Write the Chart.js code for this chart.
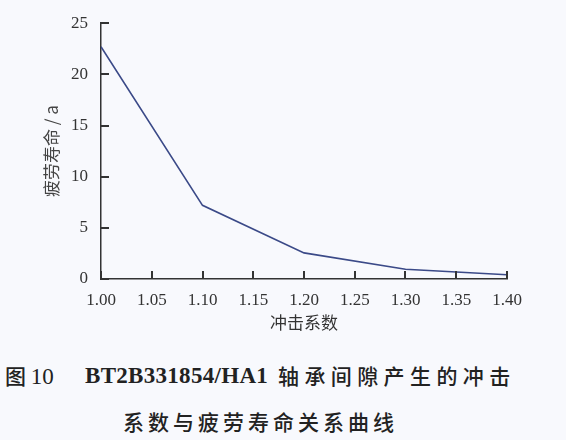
<!DOCTYPE html>
<html>
<head>
<meta charset="utf-8">
<script src="https://cdn.jsdelivr.net/npm/chart.js@4/dist/chart.umd.min.js"></script>
<style>
  html, body { margin: 0; padding: 0; background: #f8f9fd; }
  #wrap { position: relative; width: 566px; height: 440px; overflow: hidden; }
  #chartBox { position: absolute; left: 0; top: 0; width: 566px; height: 340px; }
  .cap { position: absolute; color: #222; font-family: "Noto Sans CJK SC", sans-serif; font-size: 21px; font-weight: 500; white-space: nowrap; line-height: 1; }
  .lat { font-family: "Liberation Serif", serif; font-size: 23px; font-weight: bold; }
</style>
</head>
<body>
<div id="wrap">
  <div id="chartBox"><canvas id="chart"></canvas></div>
  <div class="cap" style="left:5px; top:365px;">图 <span class="lat" style="font-weight:normal">10</span></div>
  <div class="cap lat" style="left:85px; top:364px; letter-spacing:0.3px;">BT2B331854/HA1</div>
  <div class="cap" style="left:278px; top:365px; letter-spacing:5.4px;">轴承间隙产生的冲击</div>
  <div class="cap" style="left:123px; top:411px; letter-spacing:4px;">系数与疲劳寿命关系曲线</div>
</div>
<script>
// 冲击系数 vs 疲劳寿命 (a)
let impactFactor = [1.00, 1.10, 1.20, 1.30, 1.40];
let fatigueLife = [22.7, 7.2, 2.55, 0.95, 0.42];

let xTitle = "冲击系数";
let yTitle = "疲劳寿命 / a";

let axisColor = "#333";
let lineColor = "#3b4a88";

let points = impactFactor.map((x, i) => ({x: x, y: fatigueLife[i]}));

// draw short tick marks pointing into the plot
const innerTicks = {
  id: 'innerTicks',
  afterDatasetsDraw(chart) {
    const c = chart.ctx;
    const xs = chart.scales.x, ys = chart.scales.y;
    c.save();
    c.strokeStyle = axisColor;
    c.lineWidth = 2;
    c.beginPath();
    xs.ticks.forEach((t) => {
      const px = Math.round(xs.getPixelForValue(t.value));
      c.moveTo(px, ys.bottom);
      c.lineTo(px, ys.bottom - 8);
    });
    ys.ticks.forEach((t) => {
      const py = Math.round(ys.getPixelForValue(t.value));
      c.moveTo(xs.left, py);
      c.lineTo(xs.left + 8, py);
    });
    c.stroke();
    c.restore();
  }
};

const ctx = document.getElementById('chart').getContext('2d');
const chart = new Chart(ctx, {
  type: 'line',
  data: {
    datasets: [{
      label: yTitle,
      data: points,
      borderColor: lineColor,
      borderWidth: 1.6,
      pointRadius: 0,
      fill: false,
      tension: 0
    }]
  },
  options: {
    animation: false,
    responsive: true,
    maintainAspectRatio: false,
    layout: { padding: { top: 23, right: 59, left: 41, bottom: 7 } },
    plugins: { legend: { display: false }, tooltip: { enabled: false } },
    scales: {
      x: {
        type: 'linear',
        min: 1.0,
        max: 1.4,
        afterFit: (s) => { s.height = 54; },
        border: { color: axisColor, width: 1.5 },
        grid: { display: false, drawTicks: false },
        ticks: {
          stepSize: 0.05,
          padding: 11,
          color: "#333",
          font: { family: "Liberation Serif", size: 17 },
          callback: (v) => v.toFixed(2)
        },
        title: {
          display: true,
          text: xTitle,
          color: "#333",
          padding: { top: 0, bottom: 0 },
          font: { family: "Noto Sans CJK SC", size: 17 }
        }
      },
      y: {
        min: 0,
        max: 25,
        afterFit: (s) => { s.width = 60; },
        border: { color: axisColor, width: 1.5 },
        grid: { display: false, drawTicks: false },
        ticks: {
          stepSize: 5,
          padding: 13,
          color: "#333",
          font: { family: "Liberation Serif", size: 17 }
        },
        title: {
          display: true,
          text: yTitle,
          color: "#444",
          padding: { top: 0, bottom: 8 },
          font: { family: "Noto Sans CJK SC", size: 17 }
        }
      }
    }
  },
  plugins: [innerTicks]
});
</script>
</body>
</html>
